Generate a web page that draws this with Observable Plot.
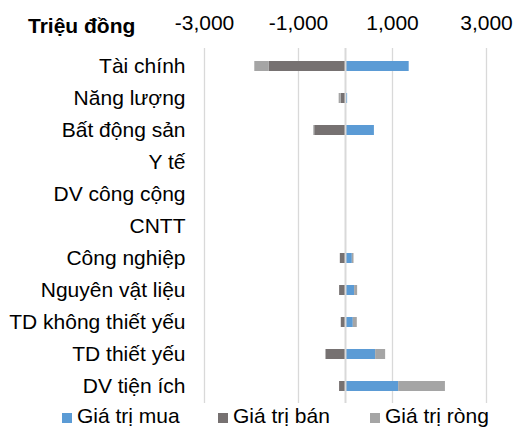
<!DOCTYPE html>
<html><head><meta charset="utf-8">
<script src="https://cdn.jsdelivr.net/npm/d3@7"></script>
<script src="https://cdn.jsdelivr.net/npm/@observablehq/plot@0.6"></script>
<style>
body{margin:0;background:#fff;}
#wrap{position:relative;width:515px;height:429px;font-family:"Liberation Sans",Arial,sans-serif;color:#000;overflow:hidden;}
#wrap svg{display:block;}
#title{position:absolute;left:28px;top:14px;font-weight:bold;font-size:21px;line-height:24px;}
.leg{position:absolute;top:404px;font-size:21px;line-height:24px;white-space:nowrap;}
.sw{position:absolute;width:10px;height:10px;top:413px;}
</style></head>
<body><div id="wrap"></div>
<script>
const categories = ["Tài chính","Năng lượng","Bất động sản","Y tế","DV công cộng","CNTT","Công nghiệp","Nguyên vật liệu","TD không thiết yếu","TD thiết yếu","DV tiện ích"];
const seriesNames = ["Giá trị mua","Giá trị bán","Giá trị ròng"];
const mua  = [1355, 45, 615, 0, 0, 0, 145, 194, 166, 641, 1131];
const ban  = [-1620, -90, -655, 0, 0, 0, -110, -125, -90, -415, -126];
const rong = [-310, -45, -20, 0, 0, 0, 36, 64, 85, 213, 995];
const xTicks = [-3000, -1000, 1000, 3000];
const colors = ["#5B9BD5", "#767171", "#A5A5A5"];

const data = [];
categories.forEach((c, i) => {
  data.push({cat: c, series: seriesNames[0], value: mua[i]});
  data.push({cat: c, series: seriesNames[1], value: ban[i]});
  data.push({cat: c, series: seriesNames[2], value: rong[i]});
});

const fmt = d => d3.format(",")(d).replace("\u2212", "-");

const chart = Plot.plot({
  width: 515, height: 405,
  marginLeft: 204, marginRight: 29, marginTop: 48, marginBottom: 2,
  style: {fontFamily: '"Liberation Sans", Arial, sans-serif', fontSize: "21px", color: "#000", background: "white", overflow: "visible"},
  x: {domain: [-3000, 3000], axis: "top", ticks: xTicks, tickFormat: fmt, tickSize: 0, tickPadding: 19, label: null},
  y: {domain: categories, paddingInner: 0.69, paddingOuter: 0.345, tickSize: 0, tickPadding: 19, label: null},
  color: {domain: seriesNames, range: colors},
  marks: [
    Plot.ruleX(xTicks, {stroke: "#D9D9D9", strokeWidth: 1.3}),
    Plot.barX(data, Plot.stackX({x: "value", y: "cat", fill: "series", z: "series"})),
    Plot.ruleX([0], {stroke: "#D9D9D9", strokeWidth: 2})
  ]
});
const wrap = document.getElementById("wrap");
wrap.appendChild(chart);

const title = document.createElement("div");
title.id = "title";
title.textContent = "Triệu đồng";
wrap.appendChild(title);

const swX = [62, 218, 370];
seriesNames.forEach((s, i) => {
  const sw = document.createElement("div");
  sw.className = "sw";
  sw.style.left = swX[i] + "px";
  sw.style.background = colors[i];
  wrap.appendChild(sw);
  const t = document.createElement("div");
  t.className = "leg";
  t.style.left = (swX[i] + 15) + "px";
  t.textContent = s;
  wrap.appendChild(t);
});
</script>
</body></html>
